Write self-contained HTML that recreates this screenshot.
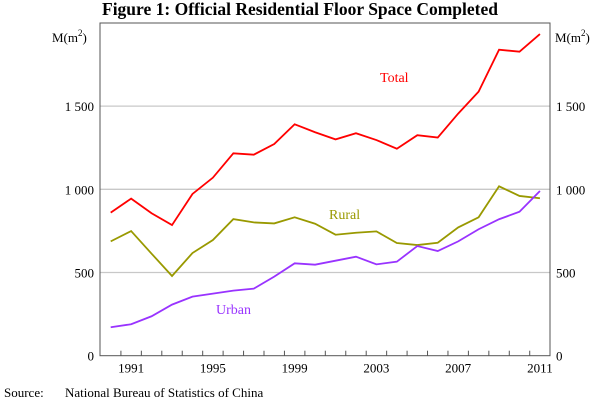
<!DOCTYPE html>
<html><head><meta charset="utf-8"><style>
body{margin:0;background:#fff;}
svg{display:block;font-family:"Liberation Serif",serif;}
</style></head><body>
<svg id="chart" width="600" height="402" viewBox="0 0 600 402">
<text x="300" y="15" text-anchor="middle" font-size="17.5" font-weight="bold">Figure 1: Official Residential Floor Space Completed</text>
<text x="52" y="42" font-size="13">M(m<tspan dy="-6" font-size="9">2</tspan><tspan dy="6">)</tspan></text>
<text x="555" y="42" font-size="13">M(m<tspan dy="-6" font-size="9">2</tspan><tspan dy="6">)</tspan></text>
<g id="grid"></g>
<g id="series"></g>
<rect x="100" y="23" width="450" height="332.7" fill="none" stroke="#555" stroke-width="1"/>
<g id="axes"></g>
<text x="380" y="82" font-size="14" fill="#ff0000">Total</text>
<text x="329" y="219" font-size="14" fill="#999900">Rural</text>
<text x="216" y="314" font-size="14" fill="#9933ff">Urban</text>
<text x="4" y="397" font-size="13">Source:</text>
<text x="65" y="397" font-size="13">National Bureau of Statistics of China</text>
</svg>
<script>
const years=[1990,1991,1992,1993,1994,1995,1996,1997,1998,1999,2000,2001,2002,2003,2004,2005,2006,2007,2008,2009,2010,2011];
const totalVals=[860,944,856,785,972,1070,1216,1208,1272,1391,1343,1300,1337,1296,1244,1325,1311,1455,1587,1839,1827,1933];
const ruralVals=[687,749,613,479,617,695,821,801,795,832,793,727,739,747,677,665,679,771,832,1018,960,946];
const urbanVals=[171,189,237,307,355,373,391,403,475,555,547,571,595,549,565,659,629,687,760,820,865,990];
const yTicks=[0,500,1000,1500];
const yTickLabels=["0","500","1 000","1 500"];
const xLabelYears=[1991,1995,1999,2003,2007,2011];
const NS="http://www.w3.org/2000/svg";
const x0=110.7,dx=20.44,yb=355.7,yPer=83.2/500;
function xs(yr){return x0+(yr-1990)*dx;}
function ys(v){return yb-v*yPer;}
const grid=document.getElementById('grid'),axes=document.getElementById('axes'),ser=document.getElementById('series');
function mk(tag,attrs,parent){const e=document.createElementNS(NS,tag);for(const k in attrs)e.setAttribute(k,attrs[k]);parent.appendChild(e);return e;}
yTicks.forEach((v,i)=>{
  if(v>0){const g=mk('line',{x1:100,x2:550,y1:ys(v),y2:ys(v),stroke:'#c8c8c8','stroke-width':1.3},grid);
  
  }
  const l=mk('text',{x:94,y:ys(v)+5,'text-anchor':'end','font-size':13},axes);l.textContent=yTickLabels[i];
  
  
  const r=mk('text',{x:556,y:ys(v)+5,'text-anchor':'start','font-size':13},axes);r.textContent=yTickLabels[i];
  
  
});
for(let i=0;i<years.length-1;i++){
  const xt=xs(years[i])+dx/2;
  const t=mk('line',{x1:xt,x2:xt,y1:yb,y2:yb-5,stroke:'#555'},axes);
  
  
}
xLabelYears.forEach(yr=>{
  const t=mk('text',{x:xs(yr),y:yb+17,'text-anchor':'middle','font-size':13},axes);t.textContent=yr;
  
  
});
function line(vals,color,name){
  const p=mk('polyline',{points:vals.map((v,i)=>xs(years[i])+','+ys(v)).join(' '),fill:'none',stroke:color,'stroke-width':1.8,'stroke-linejoin':'miter'},ser);
  
  
}
line(ruralVals,'#999900','rural-line');
line(urbanVals,'#9933ff','urban-line');
line(totalVals,'#ff0000','total-line');
</script>
</body></html>
